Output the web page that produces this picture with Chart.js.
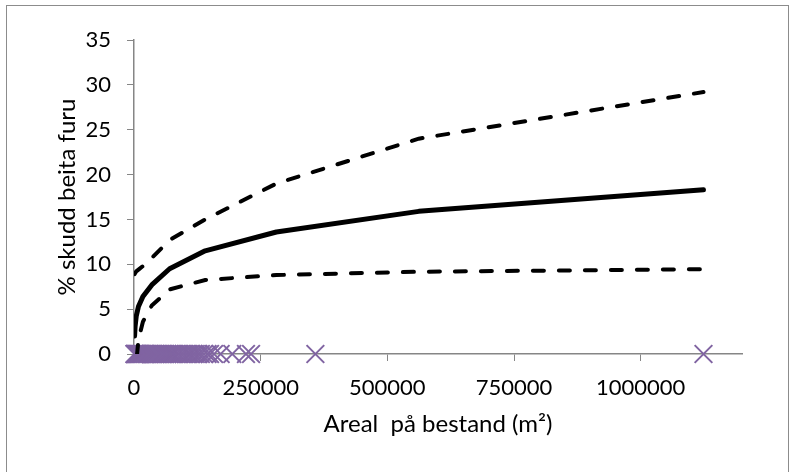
<!DOCTYPE html>
<html>
<head>
<meta charset="utf-8">
<script src="https://cdn.jsdelivr.net/npm/chart.js@4/dist/chart.umd.min.js"></script>
<style>
  html, body { margin: 0; padding: 0; background: #fff; }
  #wrap { position: relative; width: 796px; height: 472px; overflow: hidden; }
  #frame { position: absolute; left: 6px; top: 5px; width: 783px; height: 480px; border: 1.5px solid #8c8c8c; box-sizing: border-box; }
  #c { position: absolute; left: 0; top: 0; }
</style>
</head>
<body>
<div id="wrap">
  <div id="frame"></div>
  <canvas id="c" width="796" height="472"></canvas>
</div>
<script>
// observed stands: area (m2), all at 0 % browsed
const standArea = [800, 1500, 2500, 3800, 5200, 6500, 8000, 9500, 11000, 13000, 15000, 17500,
  20000, 22000, 25000, 27500, 30000, 33000, 36000, 39000, 42000, 45000, 48000, 52000, 55000,
  58000, 62000, 66000, 70000, 74000, 78000, 83000, 88000, 93000, 98000, 103000, 108000, 112000,
  117000, 122000, 127000, 132000, 138000, 145000, 150000, 158000, 171000, 194000, 221000,
  231000, 358000, 1124000];
const standBrowse = standArea.map(() => 0);

// fitted curve and confidence band
const fitArea  = [1100, 2200, 4400, 8800, 17600, 35100, 70300, 140500, 281000, 562000, 1124000];
const fitMid   = [2.0, 3.1, 4.2, 5.3, 6.4, 7.7, 9.5, 11.5, 13.6, 15.9, 18.3];
const fitUpper = [8.9, 9.0, 9.2, 9.4, 9.8, 10.7, 12.7, 15.0, 19.0, 24.0, 29.2];
const fitLower = [-6.0, -3.5, -1.0, 1.6, 3.6, 5.4, 7.2, 8.25, 8.8, 9.17, 9.45];

const xTicks = [0, 250000, 500000, 750000, 1000000];
const yTicks = [0, 5, 10, 15, 20, 25, 30, 35];

const FONT = 'Lato';
const axisGray = '#868686';
const pts = (xs, ys) => xs.map((x, i) => ({ x: x, y: ys[i] }));

new Chart(document.getElementById('c').getContext('2d'), {
  type: 'scatter',
  data: {
    datasets: [
      { type: 'line', data: pts(fitArea, fitMid), borderColor: '#000', borderWidth: 5,
        pointRadius: 0, borderCapStyle: 'round', borderJoinStyle: 'round', tension: 0, order: 1 },
      { type: 'line', data: pts(fitArea, fitUpper), borderColor: '#000', borderWidth: 4,
        borderDash: [11, 15], borderCapStyle: 'round', pointRadius: 0, tension: 0, order: 2 },
      { type: 'line', data: pts(fitArea, fitLower), borderColor: '#000', borderWidth: 4,
        borderDash: [11, 15], borderCapStyle: 'round', pointRadius: 0, tension: 0, order: 3, clip: 0 },
      { data: pts(standArea, standBrowse), pointStyle: 'crossRot', pointRadius: 12.5,
        borderColor: '#8064A2', backgroundColor: '#8064A2', pointBorderWidth: 2, clip: false, order: 4 }
    ]
  },
  options: {
    responsive: false,
    animation: false,
    events: [],
    layout: { padding: { top: 40, right: 54, bottom: 0, left: 0 } },
    plugins: { legend: { display: false }, tooltip: { enabled: false } },
    scales: {
      x: {
        type: 'linear', min: 0, max: 1200000,
        afterFit: s => { s.height = 118; },
        afterBuildTicks: s => { s.ticks = xTicks.map(v => ({ value: v })); },
        grid: { drawOnChartArea: false, drawTicks: true, tickLength: 7, color: axisGray },
        border: { color: axisGray, width: 1.5 },
        ticks: { color: '#000', font: { family: FONT, size: 22 }, padding: 14, maxRotation: 0,
          callback: v => String(v) },
        title: { display: true, text: 'Areal  på bestand (m²)', color: '#000',
          font: { family: FONT, size: 24 }, padding: { top: 0, bottom: 33 } }
      },
      y: {
        min: 0, max: 35,
        afterFit: s => { s.width = 134; },
        afterBuildTicks: s => { s.ticks = yTicks.map(v => ({ value: v })); },
        grid: { drawOnChartArea: false, drawTicks: true, tickLength: 7, color: axisGray },
        border: { color: axisGray, width: 1.5 },
        ticks: { color: '#000', font: { family: FONT, size: 22 }, padding: 16 },
        title: { display: true, text: '% skudd beita furu', color: '#000',
          font: { family: FONT, size: 24 }, padding: { top: 53, bottom: 0 } }
      }
    }
  }
});
</script>
</body>
</html>
